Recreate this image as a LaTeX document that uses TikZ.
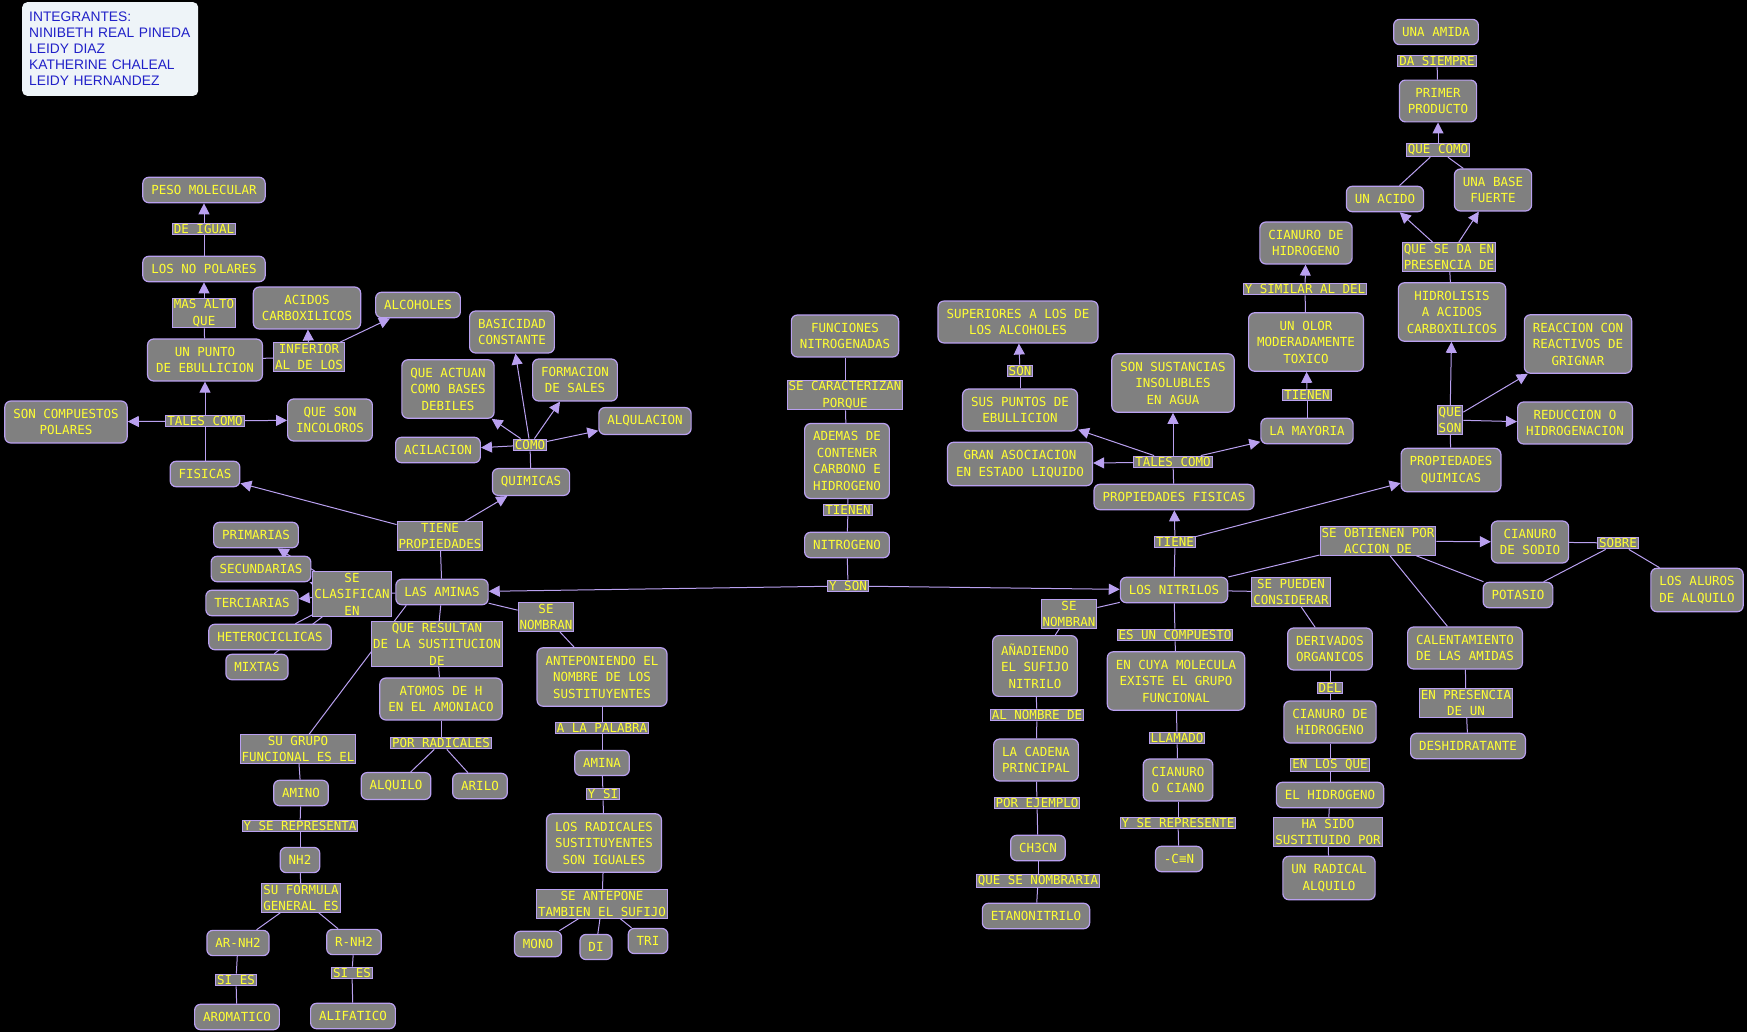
\documentclass[tikz,border=0pt]{standalone}
\usepackage{fontspec}
\setmonofont{DejaVu Sans Mono}
\newfontfamily\infofont{Liberation Sans}
\usetikzlibrary{arrows.meta,backgrounds}

\definecolor{mapgray}{HTML}{808080}
\definecolor{maplila}{HTML}{B9A0F0}
\definecolor{mapyellow}{HTML}{FFFF33}
\definecolor{infoblue}{HTML}{2020C8}
\definecolor{infofill}{HTML}{EEF4F8}

\tikzset{
  concept/.style={draw=maplila, line width=1.2pt, fill=mapgray, rounded corners=6pt,
    text=mapyellow, font=\ttfamily\fontsize{12.5}{16.5}\selectfont, align=center,
    inner xsep=8.5pt, inner ysep=8pt, minimum height=25pt},
  linkword/.style={draw=maplila, line width=1pt, fill=mapgray, text=mapyellow,
    font=\ttfamily\fontsize{12.5}{16.5}\selectfont, align=center,
    inner xsep=1.5pt, inner ysep=1.2pt},
  infobox/.style={fill=infofill, rounded corners=5pt, text=infoblue,
    font=\infofont\fontsize{13.8}{16}\selectfont, align=left, text width=162pt,
    inner xsep=7pt, inner ysep=10pt, minimum height=93pt},
  link/.style={draw, color=maplila, line width=1pt},
  arrow/.style={link, -{Triangle[length=11pt,width=11pt]}}
}

\begin{document}
\begin{tikzpicture}[x=1pt,y=-1pt]
                  \useasboundingbox (0,0) rectangle (1747,1032);
                  \node[infobox, anchor=north west] (info) at (22,2) {INTEGRANTES:\\NINIBETH REAL PINEDA\\LEIDY DIAZ\\KATHERINE CHALEAL\\LEIDY HERNANDEZ};
                  % las aminas
                  \node[concept] (peso) at (204,190) {PESO MOLECULAR};
                  \node[linkword] (igual) at (204,229) {DE IGUAL};
                  \node[concept] (nopolares) at (204,269) {LOS NO POLARES};
                  \node[linkword] (masalto) at (204,313) {MAS ALTO\\QUE};
                  \node[concept] (acidos) at (307,308) {ACIDOS\\CARBOXILICOS};
                  \node[concept] (alcoholes) at (418,305) {ALCOHOLES};
                  \node[concept] (punto) at (205,360) {UN PUNTO\\DE EBULLICION};
                  \node[linkword] (inferior) at (309,357) {INFERIOR\\AL DE LOS};
                  \node[linkword] (talesA) at (205,421) {TALES COMO};
                  \node[concept] (polares) at (66,422) {SON COMPUESTOS\\POLARES};
                  \node[concept] (incoloros) at (330,420) {QUE SON\\INCOLOROS};
                  \node[concept] (fisicas) at (205,474) {FISICAS};
                  \node[concept] (basicidad) at (512,332) {BASICIDAD\\CONSTANTE};
                  \node[concept] (actuan) at (448,389) {QUE ACTUAN\\COMO BASES\\DEBILES};
                  \node[concept] (sales) at (575,380) {FORMACION\\DE SALES};
                  \node[concept] (alqulacion) at (645,421) {ALQULACION};
                  \node[concept] (acilacion) at (438,450) {ACILACION};
                  \node[linkword] (comoA) at (530,445) {COMO};
                  \node[concept] (quimicas) at (531,482) {QUIMICAS};
                  \node[linkword] (tieneprop) at (440,536) {TIENE\\PROPIEDADES};
                  \node[concept] (primarias) at (256,535) {PRIMARIAS};
                  \node[concept] (secundarias) at (261,569) {SECUNDARIAS};
                  \node[linkword] (seclas) at (352,594) {SE\\CLASIFICAN\\EN};
                  \node[concept] (aminas) at (442,592) {LAS AMINAS};
                  \node[concept] (terciarias) at (252,603) {TERCIARIAS};
                  \node[concept] (hetero) at (270,637) {HETEROCICLICAS};
                  \node[concept] (mixtas) at (257,667) {MIXTAS};
                  \node[linkword] (resultan) at (437,644) {QUE RESULTAN\\DE LA SUSTITUCION\\DE};
                  \node[concept] (atomos) at (441,699) {ATOMOS DE H\\EN EL AMONIACO};
                  \node[linkword] (nombranA) at (546,617) {SE\\NOMBRAN};
                  \node[concept] (anteponiendo) at (602,677) {ANTEPONIENDO EL\\NOMBRE DE LOS\\SUSTITUYENTES};
                  \node[linkword] (palabra) at (602,728) {A LA PALABRA};
                  \node[linkword] (grupo) at (298,749) {SU GRUPO\\FUNCIONAL ES EL};
                  \node[linkword] (radicales) at (441,743) {POR RADICALES};
                  \node[concept] (amino) at (301,793) {AMINO};
                  \node[concept] (alquilo) at (396,786) {ALQUILO};
                  \node[concept] (arilo) at (480,786) {ARILO};
                  \node[concept] (amina) at (602,763) {AMINA};
                  \node[linkword] (ysi) at (603,794) {Y SI};
                  \node[linkword] (representa) at (300,826) {Y SE REPRESENTA};
                  \node[concept] (iguales) at (604,843) {LOS RADICALES\\SUSTITUYENTES\\SON IGUALES};
                  \node[concept] (nhdos) at (300,860) {NH2};
                  \node[linkword] (formula) at (301,898) {SU FORMULA\\GENERAL ES};
                  \node[linkword] (antepone) at (602,904) {SE ANTEPONE\\TAMBIEN EL SUFIJO};
                  \node[concept] (arnh) at (238,943) {AR-NH2};
                  \node[concept] (rnh) at (354,942) {R-NH2};
                  \node[concept] (mono) at (538,944) {MONO};
                  \node[concept] (di) at (596,947) {DI};
                  \node[concept] (tri) at (648,941) {TRI};
                  \node[linkword] (siesA) at (236,980) {SI ES};
                  \node[linkword] (siesB) at (352,973) {SI ES};
                  \node[concept] (aromatico) at (237,1017) {AROMATICO};
                  \node[concept] (alifatico) at (353,1016) {ALIFATICO};
                  % funciones nitrogenadas
                  \node[concept] (funciones) at (845,336) {FUNCIONES\\NITROGENADAS};
                  \node[linkword] (caracterizan) at (845,395) {SE CARACTERIZAN\\PORQUE};
                  \node[concept] (ademas) at (847,461) {ADEMAS DE\\CONTENER\\CARBONO E\\HIDROGENO};
                  \node[linkword] (tienenA) at (848,510) {TIENEN};
                  \node[concept] (nitrogeno) at (847,545) {NITROGENO};
                  \node[linkword] (yson) at (848,586) {Y SON};
                  % los nitrilos
                  \node[concept] (superiores) at (1018,322) {SUPERIORES A LOS DE\\LOS ALCOHOLES};
                  \node[linkword] (son) at (1020,371) {SON};
                  \node[concept] (puntos) at (1020,410) {SUS PUNTOS DE\\EBULLICION};
                  \node[concept] (asociacion) at (1020,464) {GRAN ASOCIACION\\EN ESTADO LIQUIDO};
                  \node[concept] (insolubles) at (1173,383) {SON SUSTANCIAS\\INSOLUBLES\\EN AGUA};
                  \node[linkword] (talesB) at (1173,462) {TALES COMO};
                  \node[concept] (propfis) at (1174,497) {PROPIEDADES FISICAS};
                  \node[linkword] (tieneB) at (1175,542) {TIENE};
                  \node[concept] (nitrilos) at (1174,590) {LOS NITRILOS};
                  \node[linkword] (nombranB) at (1069,614) {SE\\NOMBRAN};
                  \node[linkword] (pueden) at (1291,592) {SE PUEDEN\\CONSIDERAR};
                  \node[linkword] (compuesto) at (1175,635) {ES UN COMPUESTO};
                  \node[concept] (anadiendo) at (1035,666) {AÑADIENDO\\EL SUFIJO\\NITRILO};
                  \node[concept] (molecula) at (1176,681) {EN CUYA MOLECULA\\EXISTE EL GRUPO\\FUNCIONAL};
                  \node[concept] (derivados) at (1330,649) {DERIVADOS\\ORGANICOS};
                  \node[linkword] (del) at (1330,688) {DEL};
                  \node[linkword] (alnombre) at (1037,715) {AL NOMBRE DE};
                  \node[concept] (cianhidB) at (1330,722) {CIANURO DE\\HIDROGENO};
                  \node[linkword] (llamado) at (1177,738) {LLAMADO};
                  \node[concept] (cadena) at (1036,760) {LA CADENA\\PRINCIPAL};
                  \node[concept] (ciano) at (1178,780) {CIANURO\\O CIANO};
                  \node[linkword] (enlosque) at (1330,765) {EN LOS QUE};
                  \node[concept] (hidrogeno) at (1330,795) {EL HIDROGENO};
                  \node[linkword] (ejemplo) at (1037,803) {POR EJEMPLO};
                  \node[linkword] (represente) at (1178,823) {Y SE REPRESENTE};
                  \node[linkword] (hasido) at (1328,832) {HA SIDO\\SUSTITUIDO POR};
                  \node[concept] (chcn) at (1038,848) {CH3CN};
                  \node[concept] (cn) at (1179,859) {-C≡N};
                  \node[concept] (radical) at (1329,878) {UN RADICAL\\ALQUILO};
                  \node[linkword] (nombraria) at (1038,881) {QUE SE NOMBRARIA};
                  \node[concept] (etanonitrilo) at (1036,916) {ETANONITRILO};
                  \node[concept] (amida) at (1436,32) {UNA AMIDA};
                  \node[linkword] (siempre) at (1437,61) {DA SIEMPRE};
                  \node[concept] (primer) at (1438,101) {PRIMER\\PRODUCTO};
                  \node[linkword] (quecomo) at (1438,150) {QUE COMO};
                  \node[concept] (acido) at (1385,199) {UN ACIDO};
                  \node[concept] (base) at (1493,190) {UNA BASE\\FUERTE};
                  \node[concept] (cianhidA) at (1306,243) {CIANURO DE\\HIDROGENO};
                  \node[linkword] (sedaen) at (1449,257) {QUE SE DA EN\\PRESENCIA DE};
                  \node[linkword] (similar) at (1305,289) {Y SIMILAR AL DEL};
                  \node[concept] (hidrolisis) at (1452,312) {HIDROLISIS\\A ACIDOS\\CARBOXILICOS};
                  \node[concept] (olor) at (1306,342) {UN OLOR\\MODERADAMENTE\\TOXICO};
                  \node[concept] (grignar) at (1578,344) {REACCION CON\\REACTIVOS DE\\GRIGNAR};
                  \node[linkword] (tienenB) at (1307,395) {TIENEN};
                  \node[concept] (mayoria) at (1307,431) {LA MAYORIA};
                  \node[linkword] (queson) at (1450,420) {QUE\\SON};
                  \node[concept] (reduccion) at (1575,423) {REDUCCION O\\HIDROGENACION};
                  \node[concept] (propquim) at (1451,470) {PROPIEDADES\\QUIMICAS};
                  \node[linkword] (obtienen) at (1378,541) {SE OBTIENEN POR\\ACCION DE};
                  \node[concept] (sodio) at (1530,542) {CIANURO\\DE SODIO};
                  \node[linkword] (sobre) at (1618,543) {SOBRE};
                  \node[concept] (potasio) at (1518,595) {POTASIO};
                  \node[concept] (aluros) at (1697,590) {LOS ALUROS\\DE ALQUILO};
                  \node[concept] (calentamiento) at (1465,648) {CALENTAMIENTO\\DE LAS AMIDAS};
                  \node[linkword] (presencia) at (1466,703) {EN PRESENCIA\\DE UN};
                  \node[concept] (deshidratante) at (1468,746) {DESHIDRATANTE};
                  \begin{scope}[on background layer]
                  \fill[black] (0,0) rectangle (1747,1032);
                  \path[link] (nopolares) edge (igual) (punto) edge (masalto) (punto) edge (inferior)
                  (fisicas) edge (talesA) (aminas) edge (tieneprop) (quimicas) edge (comoA)
                  (aminas) edge (seclas) (seclas) edge (hetero) (seclas) edge (mixtas)
                  (aminas) edge (resultan) (resultan) edge (atomos) (atomos) edge (radicales)
                  (radicales) edge (alquilo) (radicales) edge (arilo) (aminas) edge (nombranA)
                  (nombranA) edge (anteponiendo) (anteponiendo) edge (palabra) (palabra) edge (amina)
                  (amina) edge (ysi) (ysi) edge (iguales) (iguales) edge (antepone)
                  (antepone) edge (mono) (antepone) edge (di) (antepone) edge (tri)
                  ([xshift=11pt]aminas.south west) edge (grupo) (grupo) edge (amino)
                  (amino) edge (representa) (representa) edge (nhdos) (nhdos) edge (formula)
                  (formula) edge (arnh) (formula) edge (rnh) (arnh) edge (siesA)
                  (siesA) edge (aromatico) (rnh) edge (siesB) (siesB) edge (alifatico);
                  \path[link] (funciones) edge (caracterizan) (caracterizan) edge (ademas)
                  (ademas) edge (tienenA) (tienenA) edge (nitrogeno) (nitrogeno) edge (yson);
                  \path[link] (nitrilos) edge (tieneB) (propfis) edge (talesB) (puntos) edge (son)
                  (mayoria) edge (tienenB) (olor) edge (similar) (propquim) edge (queson)
                  (hidrolisis) edge (sedaen) (acido) edge (quecomo) (base) edge (quecomo)
                  (primer) edge (siempre) (nitrilos) edge (nombranB) (nombranB) edge (anadiendo)
                  (anadiendo) edge (alnombre) (alnombre) edge (cadena) (cadena) edge (ejemplo)
                  (ejemplo) edge (chcn) (chcn) edge (nombraria) (nombraria) edge (etanonitrilo)
                  (nitrilos) edge (compuesto) (compuesto) edge (molecula) (molecula) edge (llamado)
                  (llamado) edge (ciano) (ciano) edge (represente) (represente) edge (cn)
                  (nitrilos) edge (pueden) (pueden) edge (derivados) (derivados) edge (del)
                  (del) edge (cianhidB) (cianhidB) edge (enlosque) (enlosque) edge (hidrogeno)
                  (hidrogeno) edge (hasido) (hasido) edge (radical)
                  (nitrilos) edge (obtienen) (obtienen) edge (potasio) (obtienen) edge (calentamiento)
                  (calentamiento) edge (presencia) (presencia) edge (deshidratante)
                  (sodio) edge (sobre) (sobre) edge (potasio) (sobre) edge (aluros);
                  \path[arrow] (igual) edge (peso) (masalto) edge (nopolares)
                  (talesA) edge (punto) (talesA) edge (polares) (talesA) edge (incoloros)
                  (inferior) edge (acidos) (inferior) edge (alcoholes)
                  (tieneprop) edge (fisicas) (tieneprop) edge (quimicas)
                  (comoA) edge (basicidad) (comoA) edge (actuan) (comoA) edge (sales)
                  (comoA) edge (alqulacion) (comoA) edge (acilacion)
                  (seclas) edge (primarias) (seclas) edge (secundarias) (seclas) edge (terciarias)
                  (yson) edge (aminas) (yson) edge (nitrilos)
                  (tieneB) edge (propfis) (tieneB) edge (propquim)
                  (talesB) edge (puntos) (talesB) edge (insolubles) (talesB) edge (asociacion)
                  (talesB) edge (mayoria) (son) edge (superiores) (tienenB) edge (olor)
                  (similar) edge (cianhidA) (queson) edge (hidrolisis) (queson) edge (grignar)
                  (queson) edge (reduccion) (sedaen) edge (acido) (sedaen) edge (base)
                  (quecomo) edge (primer) (obtienen) edge (sodio);
                  \end{scope}
              \end{tikzpicture}
\end{document}
